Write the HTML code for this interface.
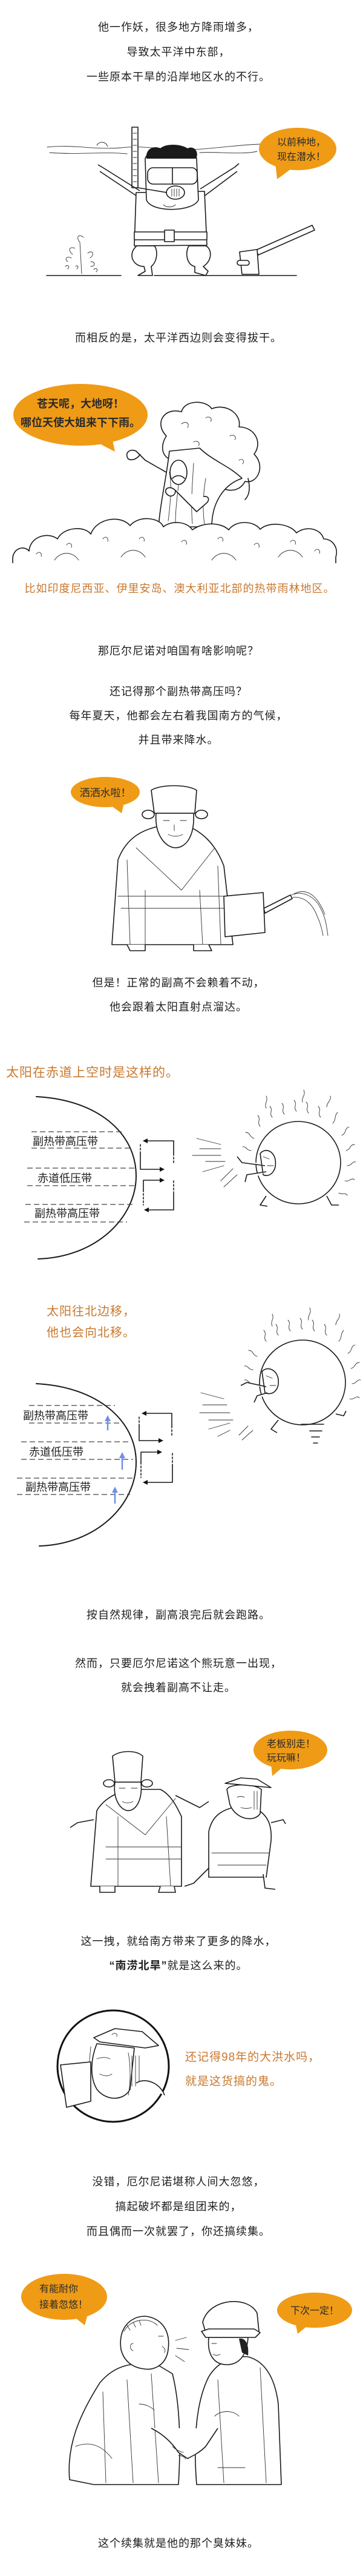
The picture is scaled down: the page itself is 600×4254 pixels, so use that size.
<!DOCTYPE html>
<html><head><meta charset="utf-8">
<style>
html,body{margin:0;padding:0;background:#fff;}
svg{display:block;}
text{font-family:"Liberation Sans","Noto Sans CJK SC",sans-serif;}
.t{font-size:18px;fill:#1e1e1e;text-anchor:middle;letter-spacing:1px;}
.o{fill:#c9782e;letter-spacing:1px;}
.b{font-size:16px;fill:#2a2a2a;}
.ln{fill:none;stroke:#1a1a1a;stroke-width:1.6;stroke-linecap:round;stroke-linejoin:round;}
.th{fill:none;stroke:#333;stroke-width:0.9;stroke-linecap:round;}
.fw{fill:#fff;stroke:#1a1a1a;stroke-width:1.6;stroke-linejoin:round;}
.bub{fill:#ef9b16;}
.dash{stroke:#444;stroke-width:1.2;stroke-dasharray:9 5;fill:none;}
.lab{font-size:18px;fill:#1e1e1e;}
</style></head>
<body>
<svg width="600" height="4254" viewBox="0 0 600 4254" xmlns="http://www.w3.org/2000/svg">
<defs>
<marker id="ah" markerWidth="8" markerHeight="8" refX="6" refY="4" orient="auto" markerUnits="userSpaceOnUse"><path d="M0,0 L8,4 L0,8 Z" fill="#111"/></marker>
<marker id="bh" markerWidth="10" markerHeight="10" refX="5" refY="5" orient="auto" markerUnits="userSpaceOnUse"><path d="M0,0 L10,5 L0,10 Z" fill="#6f8fe6"/></marker>
</defs>

<!-- Section 1 text -->
<text class="t" x="295" y="51">他一作妖，很多地方降雨增多，</text>
<text class="t" x="295" y="92">导致太平洋中东部，</text>
<text class="t" x="295" y="133">一些原本干旱的沿岸地区水的不行。</text>

<!-- Diver -->
<path class="th" d="M78,243 C120,238 160,248 200,244 C230,240 260,246 300,247 C340,248 380,240 430,238"/>
<path class="th" d="M82,252 C130,256 170,250 210,254 M330,252 C360,250 400,256 425,250"/>
<path class="th" d="M160,240 C165,232 175,234 178,242"/>
<rect class="fw" x="218" y="210" width="10" height="100"/>
<path class="th" d="M220,220 h6 M220,230 h6 M220,240 h6 M220,250 h6 M220,260 h6 M220,270 h6 M220,280 h6 M220,290 h6 M220,300 h6"/>
<path class="fw" d="M231,315 L172,278 L162,272 M165,283 L228,325"/>
<path class="fw" d="M331,312 L388,276 L395,270 M392,283 L336,325"/>
<path class="fw" d="M225,318 L338,316 L342,405 L222,406 Z"/>
<path class="fw" d="M240,262 C245,240 320,238 325,262 L328,330 C320,350 250,352 242,330 Z"/>
<path d="M242,262 C240,245 255,240 265,245 C275,236 300,238 310,245 C320,240 330,250 324,262 Z" fill="#1a1a1a"/>
<rect class="fw" x="244" y="277" width="82" height="27" rx="9"/>
<line class="ln" x1="285" y1="277" x2="285" y2="304"/>
<ellipse class="fw" cx="290" cy="318" rx="15" ry="11"/>
<path class="th" d="M284,312 v12 M288,312 v12 M292,312 v12 M296,312 v12"/>
<path class="fw" d="M228,310 L276,318"/>
<path class="th" d="M270,338 c5,5 15,5 20,0"/>
<rect class="fw" x="222" y="383" width="120" height="13"/>
<rect class="fw" x="272" y="380" width="16" height="19"/>
<path class="fw" d="M226,406 C210,420 220,440 238,440 L240,448 L228,455 L252,455 L250,440 C262,430 260,410 255,406 Z"/>
<path class="fw" d="M312,406 C305,420 310,438 322,440 L322,450 L340,455 L344,448 L336,440 C352,430 350,410 340,406 Z"/>
<line class="ln" x1="77" y1="455" x2="200" y2="455"/>
<line class="ln" x1="255" y1="455" x2="490" y2="455"/>
<path class="th" d="M135,452 L132,400 M132,400 C125,392 130,385 138,392 M120,420 c-8,-6 -6,-14 4,-10 M145,418 c8,-6 12,2 4,8 M112,432 c-6,-4 -2,-10 6,-6 M150,432 c8,0 8,8 0,8"/>
<path class="th" d="M108,440 c4,-4 8,0 4,4 M155,445 c4,-4 8,0 4,4 M125,440 c3,-3 6,0 2,4"/>
<path class="fw" d="M423,413 L516,372 L520,380 L427,421 Z"/>
<path class="fw" d="M396,416 L425,412 L428,453 L400,453 Z"/>
<rect class="fw" x="392" y="430" width="20" height="8" rx="4"/>
<ellipse class="bub" cx="492" cy="246" rx="64" ry="35"/>
<path class="bub" d="M455,268 L485,276 L458,296 Z"/>
<text class="b" x="458" y="240">以前种地，</text>
<text class="b" x="458" y="264">现在潜水！</text>

<text class="t" x="295" y="564">而相反的是，太平洋西边则会变得拔干。</text>

<!-- Tree -->
<path class="fw" d="M275,720 C255,700 270,672 300,680 C305,660 340,660 350,675 C375,665 400,685 395,705 C420,705 435,730 420,750 C440,770 425,800 405,795 C395,815 370,812 360,800 L290,760 C270,760 262,740 275,720 Z"/>
<path class="th" d="M300,700 c8,-6 14,0 10,6 M340,690 c6,-4 12,2 8,6 M380,720 c6,-4 12,2 8,6 M395,760 c6,-4 10,2 6,6 M320,730 c6,-4 12,2 8,6"/>
<path class="fw" d="M280,745 C275,790 265,830 262,870 L350,870 C350,830 370,800 400,790 C380,770 350,760 330,740 Z"/>
<path class="th" d="M300,760 C296,800 290,830 290,865 M320,765 C318,800 315,830 318,865 M340,790 C335,820 335,845 338,865 M280,780 c4,20 2,50 -2,80"/>
<ellipse class="fw" cx="295" cy="780" rx="14" ry="20"/>
<path class="ln" d="M285,790 c6,-6 14,-6 20,0"/>
<path class="fw" d="M275,780 L240,760 L225,745 C215,740 205,748 212,758 C220,762 228,756 232,750"/>
<path class="fw" d="M290,810 L325,845 L340,832 C348,826 345,818 336,820 M290,810 C280,800 270,808 275,815 C280,822 290,820 290,810"/>
<path class="ln" d="M410,790 c5,20 0,30 -5,35"/>
<!-- bushes -->
<path class="fw" d="M21,925 C20,905 40,900 48,910 C50,885 80,878 95,890 C105,870 140,868 150,882 C160,855 200,850 215,868 C230,850 265,855 270,870 C285,858 310,862 318,875 C335,862 365,862 378,875 C390,858 420,860 430,874 C445,860 480,865 490,880 C505,868 530,872 535,890 C550,890 560,905 555,920 L555,934 L21,934 Z"/>
<path class="th" d="M60,915 c4,-6 10,-2 8,4 M110,900 c4,-6 10,-2 8,4 M170,890 c4,-6 10,-2 8,4 M230,890 c4,-6 10,-2 8,4 M300,895 c4,-6 10,-2 8,4 M360,890 c4,-6 10,-2 8,4 M420,900 c4,-6 10,-2 8,4 M480,895 c4,-6 10,-2 8,4 M520,910 c4,-6 10,-2 8,4"/>
<path class="th" d="M90,925 c10,-15 30,-15 40,0 M200,920 c10,-15 30,-15 40,0 M350,925 c10,-15 30,-15 40,0 M460,920 c10,-15 30,-15 40,0"/>
<rect x="0" y="930" width="600" height="10" fill="#fff"/>
<ellipse class="bub" cx="133" cy="685" rx="111" ry="51"/>
<path class="bub" d="M150,725 L185,722 L190,746 Z"/>
<text class="b" x="133" y="673" style="text-anchor:middle;font-size:18px;font-weight:bold">苍天呢，大地呀！</text>
<text class="b" x="133" y="704" style="text-anchor:middle;font-size:18px;font-weight:bold">哪位天使大姐来下下雨。</text>

<text class="o" x="297" y="978" style="font-size:18px;text-anchor:middle">比如印度尼西亚、伊里安岛、澳大利亚北部的热带雨林地区。</text>

<text class="t" x="295" y="1081">那厄尔尼诺对咱国有啥影响呢？</text>
<text class="t" x="295" y="1148">还记得那个副热带高压吗？</text>
<text class="t" x="295" y="1188">每年夏天，他都会左右着我国南方的气候，</text>
<text class="t" x="295" y="1228">并且带来降水。</text>

<!-- Man with watering can -->
<ellipse class="bub" cx="174" cy="1308" rx="57" ry="25"/>
<path class="bub" d="M180,1328 L205,1326 L201,1343 Z"/>
<text class="b" x="174" y="1315" style="text-anchor:middle;font-size:17px">洒洒水啦！</text>
<path class="fw" d="M185,1560 L195,1420 C210,1380 240,1370 260,1365 L300,1360 C330,1370 355,1390 370,1430 L385,1560 Z"/>
<path class="th" d="M225,1400 L300,1470 M300,1470 L355,1400 M240,1470 L240,1560 M330,1470 L335,1560 M195,1480 L380,1480 M200,1500 L380,1500 M210,1420 L215,1560 M360,1430 L365,1560"/>
<path class="fw" d="M255,1343 L250,1305 C265,1295 310,1295 325,1305 L322,1343 Z"/>
<ellipse class="fw" cx="245" cy="1345" rx="10" ry="7"/>
<ellipse class="fw" cx="333" cy="1345" rx="10" ry="7"/>
<path class="fw" d="M258,1343 C255,1380 275,1400 290,1400 C305,1400 322,1385 320,1343 Z"/>
<path class="th" d="M270,1355 h10 M298,1355 h10 M278,1378 c8,4 16,4 24,0 M288,1362 v10"/>
<path class="fw" d="M370,1480 L435,1474 L438,1540 L372,1547 Z"/>
<path class="fw" d="M436,1500 L480,1478 L483,1484 L438,1508 Z"/>
<path class="th" d="M482,1478 C500,1470 520,1480 530,1500 C538,1515 540,1530 542,1545 M484,1482 C505,1480 518,1495 525,1515 C530,1525 532,1535 534,1545 M486,1476 C508,1465 525,1480 537,1510"/>
<path class="fw" d="M210,1560 L215,1570 L240,1570 L240,1560 M320,1560 L320,1570 L350,1570 L345,1560"/>

<text class="t" x="295" y="1629">但是！正常的副高不会赖着不动，</text>
<text class="t" x="295" y="1669">他会跟着太阳直射点溜达。</text>

<text class="o" x="10" y="1778" style="font-size:21px">太阳在赤道上空时是这样的。</text>

<!-- Diagram 1 -->
<path class="ln" style="stroke-width:2" d="M60,1811 C160,1816 225,1870 225,1942 C225,2010 160,2076 63,2079"/>
<path class="dash" d="M52,1869 H202 M52,1896 H214 M45,1929 H222 M45,1958 H224 M42,1989 H220 M40,2018 H210"/>
<text class="lab" x="54" y="1891">副热带高压带</text>
<text class="lab" x="62" y="1952">赤道低压带</text>
<text class="lab" x="57" y="2010">副热带高压带</text>
<path class="ln" d="M287,1884 H238" marker-end="url(#ah)"/>
<path class="ln" d="M287,1884 V1905" />
<path class="ln" style="stroke-dasharray:3 3" d="M287,1905 V1922 M232,1890 V1905"/>
<path class="ln" d="M232,1905 V1931 H270" marker-end="url(#ah)"/>
<path class="ln" d="M237,1965 V1949 H270" marker-end="url(#ah)"/>
<path class="ln" style="stroke-dasharray:3 3" d="M287,1950 V1972 M237,1965 V1990"/>
<path class="ln" d="M287,1972 V1998 H240" marker-end="url(#ah)"/>
<!-- Sun 1 -->
<g>
<path class="th" d="M330,1897 H365 M318,1908 H365 M340,1918 H372 M325,1880 L365,1890 M335,1935 L370,1925 M365,1950 L385,1930 M370,1960 L392,1940"/>
<path class="th" d="M430,1860 c-6,-6 2,-12 -4,-18 M450,1845 c-6,-6 2,-12 -4,-18 M470,1840 c-6,-6 2,-12 -4,-18 M490,1835 c-6,-6 2,-12 -4,-18 M510,1838 c-6,-6 2,-12 -4,-18 M530,1845 c-6,-6 2,-12 -4,-18 M550,1855 c6,-6 2,-12 8,-18 M565,1875 c8,-4 4,-12 12,-14 M572,1900 c8,-2 6,-10 14,-10 M574,1925 c8,0 8,-8 14,-6 M570,1950 c8,2 10,-6 16,-2 M560,1970 c6,4 10,-2 14,4 M420,1880 c-8,-2 -6,-10 -14,-10 M415,1900 c-8,0 -8,-8 -14,-6 M440,1830 c-4,-8 4,-12 0,-20 M500,1820 c-2,-8 6,-12 2,-20 M540,1828 c0,-8 8,-10 6,-18"/>
<ellipse class="fw" cx="493" cy="1920" rx="70" ry="68"/>
<path class="fw" d="M430,1905 C438,1895 452,1900 455,1915 C458,1935 445,1945 435,1940 Z"/>
<path class="th" d="M435,1910 l10,4 M442,1925 l10,0"/>
<path class="fw" d="M438,1925 L400,1920 L392,1910 M440,1935 L408,1940 L405,1952"/>
<path class="fw" d="M440,1975 L430,1990 L442,1992 M540,1975 L548,1990 L560,1990"/>
</g>

<!-- Section: north -->
<text class="o" x="77" y="2172" style="font-size:20px">太阳往北边移，</text>
<text class="o" x="77" y="2207" style="font-size:20px">他也会向北移。</text>
<path class="ln" style="stroke-width:2" d="M60,2285 C160,2290 225,2345 225,2415 C225,2485 160,2550 65,2553"/>
<path class="dash" d="M48,2321 H190 M48,2350 H205 M35,2381 H215 M35,2410 H220 M28,2441 H222 M28,2468 H215"/>
<text class="lab" x="38" y="2344">副热带高压带</text>
<text class="lab" x="48" y="2404">赤道低压带</text>
<text class="lab" x="42" y="2462">副热带高压带</text>
<path style="stroke:#6f8fe6;stroke-width:2.5;fill:none" d="M178,2362 V2342" marker-end="url(#bh)"/>
<path style="stroke:#6f8fe6;stroke-width:2.5;fill:none" d="M202,2427 V2403" marker-end="url(#bh)"/>
<path style="stroke:#6f8fe6;stroke-width:2.5;fill:none" d="M190,2483 V2460" marker-end="url(#bh)"/>
<path class="ln" d="M284,2355 V2334 H236" marker-end="url(#ah)"/>
<path class="ln" style="stroke-dasharray:3 3" d="M284,2355 V2372 M230,2340 V2355"/>
<path class="ln" d="M230,2355 V2379 H268" marker-end="url(#ah)"/>
<path class="ln" d="M233,2415 V2398 H266" marker-end="url(#ah)"/>
<path class="ln" style="stroke-dasharray:3 3" d="M285,2400 V2420 M233,2415 V2440"/>
<path class="ln" d="M285,2420 V2448 H238" marker-end="url(#ah)"/>
<!-- Sun 2 -->
<g>
<path class="th" d="M335,2320 H375 M330,2333 H380 M345,2345 H385 M332,2300 L370,2310 M345,2360 L380,2350 M395,2370 L410,2355 M400,2378 L418,2362 M360,2372 L380,2362"/>
<path class="th" d="M440,2215 c-6,-6 2,-12 -4,-18 M460,2205 c-6,-6 2,-12 -4,-18 M480,2198 c-6,-6 2,-12 -4,-18 M500,2195 c-6,-6 2,-12 -4,-18 M520,2198 c-6,-6 2,-12 -4,-18 M540,2205 c-6,-6 2,-12 -4,-18 M560,2215 c6,-6 2,-12 8,-18 M575,2235 c8,-4 4,-12 12,-14 M580,2260 c8,-2 6,-10 14,-10 M582,2285 c8,0 8,-8 14,-6 M578,2310 c8,2 10,-6 16,-2 M425,2240 c-8,-2 -6,-10 -14,-10 M418,2262 c-8,0 -8,-8 -14,-6 M418,2285 c-8,0 -8,-8 -14,-6 M450,2190 c-4,-8 4,-12 0,-20 M510,2180 c-2,-8 6,-12 2,-20 M555,2188 c0,-8 8,-10 6,-18"/>
<ellipse class="fw" cx="500" cy="2283" rx="71" ry="70"/>
<path class="fw" d="M433,2265 C442,2255 458,2262 460,2278 C462,2298 448,2305 438,2300 Z"/>
<path class="th" d="M440,2272 l10,4 M446,2288 l10,0"/>
<path class="fw" d="M440,2290 L408,2283 L398,2288 M442,2300 L425,2305 L420,2316"/>
<path class="fw" d="M460,2345 L448,2360 L458,2366 M555,2335 L568,2338 L572,2330"/>
<path class="ln" d="M498,2352 H535 M512,2363 H532 M515,2373 H528 M518,2383 H525"/>
</g>

<text class="t" x="295" y="2673">按自然规律，副高浪完后就会跑路。</text>
<text class="t" x="295" y="2753">然而，只要厄尔尼诺这个熊玩意一出现，</text>
<text class="t" x="295" y="2793">就会拽着副高不让走。</text>

<!-- Two characters pulling -->
<ellipse class="bub" cx="480" cy="2890" rx="61" ry="32"/>
<path class="bub" d="M448,2912 L470,2916 L450,2933 Z"/>
<text class="b" x="441" y="2885">老板别走！</text>
<text class="b" x="441" y="2908">玩玩嘛！</text>
<path class="fw" d="M150,3115 L160,2990 C175,2965 205,2955 225,2955 L265,2955 C285,2965 295,2990 300,3000 L300,3115 Z"/>
<path class="th" d="M175,2980 L240,3030 L290,2970 M175,3050 L300,3050 M175,3070 L300,3070 M195,3000 L195,3115 M275,3000 L282,3115"/>
<path class="fw" d="M155,3005 L128,3010 L116,3018"/>
<path class="fw" d="M190,2943 L186,2900 C200,2890 225,2890 236,2900 L233,2943 Z"/>
<ellipse class="fw" cx="180" cy="2945" rx="9" ry="6"/>
<ellipse class="fw" cx="243" cy="2945" rx="9" ry="6"/>
<path class="fw" d="M190,2943 C186,2972 200,2990 212,2990 C225,2990 236,2972 233,2943 Z"/>
<path class="th" d="M197,2953 h10 M217,2953 h10 M202,2975 c6,3 12,3 18,0"/>
<path class="fw" d="M165,3115 L165,3125 L190,3125 L190,3115 M265,3115 L262,3125 L290,3125 L288,3115"/>
<path class="fw" d="M290,2965 L330,2985 L345,2975"/>
<path class="fw" d="M345,3025 C350,3000 365,2990 385,2985 L420,2985 C440,2995 450,3010 448,3040 L440,3100 L345,3100 Z"/>
<path class="th" d="M350,3060 L445,3060 M360,3080 L440,3080"/>
<path class="fw" d="M345,3085 L320,3110 L305,3115 M435,3095 L438,3118 L455,3120"/>
<path class="fw" d="M448,3010 L468,3005 L472,3012"/>
<path class="fw" d="M380,2980 L375,2955 C380,2945 420,2945 432,2955 L430,2995 C420,3010 390,3005 380,2980 Z"/>
<path class="fw" d="M372,2945 L398,2936 L425,2938 L448,2952 Z"/>
<path class="th" d="M392,2968 c4,-2 8,-2 12,0 M398,2985 c6,2 12,2 18,0 M420,2958 v30 M425,2958 v30"/>

<text class="t" x="295" y="3212">这一拽，就给南方带来了更多的降水，</text>
<text class="t" x="295" y="3252"><tspan style="font-weight:bold">“南涝北旱”</tspan>就是这么来的。</text>

<!-- Circle portrait -->
<circle cx="187" cy="3412" r="92" style="fill:#fff;stroke:#111;stroke-width:3"/>
<path class="fw" d="M155,3365 L190,3350 L235,3355 L262,3378 L240,3382 L165,3372 Z"/>
<path class="th" d="M185,3360 c4,-4 10,-2 8,3"/>
<path class="fw" d="M160,3375 C150,3400 148,3430 160,3450 C175,3470 205,3470 215,3450 L222,3382 Z"/>
<path class="th" d="M160,3400 c8,-3 16,-3 22,0 M165,3425 c8,4 14,4 20,0 M150,3380 L142,3470 M212,3390 c4,20 4,50 0,70"/>
<path class="th" d="M218,3395 v50 M224,3395 v50 M230,3395 v45"/>
<path class="fw" d="M100,3410 L150,3405 L150,3470 L110,3480 Z"/>
<path class="fw" d="M225,3440 C240,3430 265,3440 272,3460"/>
<text class="o" x="306" y="3403" style="font-size:19px">还记得98年的大洪水吗，</text>
<text class="o" x="306" y="3443" style="font-size:19px">就是这货搞的鬼。</text>

<text class="t" x="295" y="3609">没错，厄尔尼诺堪称人间大忽悠，</text>
<text class="t" x="295" y="3650">搞起破坏都是组团来的，</text>
<text class="t" x="295" y="3691">而且偶而一次就罢了，你还搞续集。</text>

<!-- Two men shaking hands -->
<ellipse class="bub" cx="106" cy="3793" rx="71" ry="38"/>
<path class="bub" d="M115,3820 L145,3822 L140,3840 Z"/>
<text class="b" x="65" y="3785">有能耐你</text>
<text class="b" x="65" y="3811">接着忽悠！</text>
<ellipse class="bub" cx="520" cy="3815" rx="62" ry="29"/>
<path class="bub" d="M488,3835 L512,3838 L492,3854 Z"/>
<text class="b" x="520" y="3821" style="text-anchor:middle">下次一定！</text>
<path class="fw" d="M115,4095 C110,4040 130,3990 165,3935 C190,3905 220,3900 260,3905 L285,3920 C295,3960 300,4020 295,4103 L155,4103 Z"/>
<path class="th" d="M170,3950 L175,4100 M210,3930 L220,4100 M250,3920 L262,4100 M125,4040 C150,4030 170,4040 185,4060 M230,3970 c10,0 20,5 25,10"/>
<path class="fw" d="M200,3880 C195,3845 215,3825 240,3825 C268,3828 282,3850 278,3880 C275,3905 255,3915 238,3912 C220,3910 205,3900 200,3880 Z"/>
<path class="th" d="M205,3850 C215,3830 245,3825 260,3840 M210,3840 l5,8 M220,3835 l4,8 M230,3832 l3,8"/>
<path class="th" d="M262,3858 h8 M268,3875 c4,2 6,6 4,10 M220,3870 c-6,0 -6,10 0,12"/>
<path class="th" d="M290,3865 L308,3860 M292,3878 L312,3880 M290,3890 L305,3900"/>
<path class="fw" d="M325,4103 C320,4040 322,3970 345,3925 C360,3900 385,3890 410,3892 C440,3900 455,3930 460,3970 L465,4103 Z"/>
<path class="th" d="M360,3930 L370,4100 M430,3910 L440,4100 M355,3990 c10,-10 30,-10 40,0 M360,4075 h45"/>
<path class="fw" d="M345,3860 C342,3890 355,3905 375,3905 C395,3905 408,3890 410,3860 Z"/>
<path class="fw" d="M335,3835 C345,3795 410,3790 425,3820 L428,3850 L340,3852 Z"/>
<path class="fw" d="M333,3850 L345,3846 L420,3846 L430,3852 L422,3860 L340,3860 Z"/>
<path d="M395,3862 C405,3860 412,3870 410,3890 L400,3885 Z" fill="#222"/>
<path class="th" d="M350,3870 h8 M352,3888 c4,2 8,2 12,0"/>
<path class="fw" d="M250,4010 C270,4020 285,4035 295,4050 L310,4060 C320,4055 330,4050 340,4040 L360,4010"/>
<path class="th" d="M285,4040 c5,5 10,8 18,10 M295,4055 c5,0 10,2 12,6"/>

<text class="t" x="295" y="4206">这个续集就是他的那个臭妹妹。</text>
</svg>
</body></html>
